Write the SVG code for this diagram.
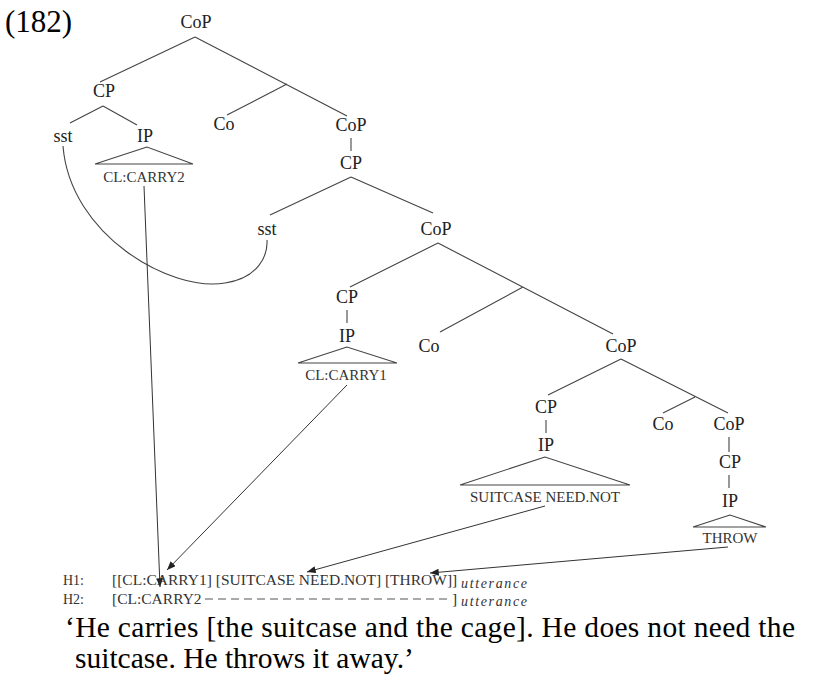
<svg xmlns="http://www.w3.org/2000/svg" width="830" height="680" viewBox="0 0 830 680">
<defs>
<marker id="arr" viewBox="0 0 10 8" refX="10" refY="4" markerWidth="9" markerHeight="7" markerUnits="userSpaceOnUse" orient="auto">
<path d="M0,0 L10,4 L0,8 Z" fill="#222"/>
</marker>
</defs>
<style>
.n{font-family:"Liberation Serif","Times New Roman",serif;font-size:18px;fill:#222;text-anchor:middle}
.sc{font-family:"Liberation Serif","Times New Roman",serif;font-size:15px;fill:#333;text-anchor:middle}
.e{stroke:#444;stroke-width:1.1;fill:none}
.tri{stroke:#444;stroke-width:1.1;fill:none}
.a{stroke:#333;stroke-width:1;fill:none;marker-end:url(#arr)}
.gl{font-family:"Liberation Serif","Times New Roman",serif;font-size:15.5px;fill:#333}
.h{font-family:"Liberation Serif","Times New Roman",serif;font-size:14px;fill:#333}
.u{font-family:"Liberation Serif","Times New Roman",serif;font-size:14px;font-style:italic;fill:#333}
.big{font-family:"Liberation Serif","Times New Roman",serif;font-size:29.5px;fill:#000}
</style>
<rect width="830" height="680" fill="#fff"/>
<text class="big" x="5" y="32" style="font-size:31px">(182)</text>

<g id="connectors">
<path class="e" d="M195,37 L100,82 M195,37 L347,116 M287,84 L227,115"/>
<path class="e" d="M103,106 L70,123 M103,106 L137,125"/>
<path class="e" d="M351,138 L351,151"/>
<path class="e" d="M351,177 L270,215 M351,177 L433,213"/>
<path class="e" d="M63,146 C70,235 170,292 225,283 C258,278 268,256 267,240"/>
<path class="e" d="M438,243 L350,287 M438,243 L613,334 M523,287 L440,332"/>
<path class="e" d="M347,310 L347,323"/>
<path class="e" d="M621,359 L548,395 M621,359 L728,413 M695,397 L663,413"/>
<path class="e" d="M546,420 L546,433"/>
<path class="e" d="M729,437 L729,452 M729,475 L729,488"/>
<path class="a" d="M144,186 L160,587"/>
<path class="a" d="M347,385 L167,570"/>
<path class="a" d="M545,506 L307,572"/>
<path class="a" d="M728,547 L430,573"/>
</g>

<g id="cop1"><text class="n" x="196" y="28">CoP</text></g>
<g id="cp1"><text class="n" x="104" y="97">CP</text></g>
<g id="sst1"><text class="n" x="63" y="142">sst</text></g>
<g id="ip1"><text class="n" x="145" y="142">IP</text></g>
<g id="carry2"><path class="tri" d="M147,147 L95,164 L193,164 Z"/><text class="sc" x="144" y="182">CL:CARRY2</text></g>
<g id="co1"><text class="n" x="224" y="130">Co</text></g>
<g id="cop2"><text class="n" x="351" y="131">CoP</text></g>
<g id="cp2"><text class="n" x="351" y="169">CP</text></g>
<g id="sst2"><text class="n" x="267" y="235">sst</text></g>
<g id="cop3"><text class="n" x="436" y="235">CoP</text></g>
<g id="cp3"><text class="n" x="347" y="303">CP</text></g>
<g id="ip3"><text class="n" x="347" y="342">IP</text></g>
<g id="carry1"><path class="tri" d="M347,347 L298,363 L397,363 Z"/><text class="sc" x="346" y="380">CL:CARRY1</text></g>
<g id="co3"><text class="n" x="429" y="352">Co</text></g>
<g id="cop4"><text class="n" x="621" y="352">CoP</text></g>
<g id="cp4"><text class="n" x="546" y="413">CP</text></g>
<g id="ip4"><text class="n" x="546" y="451">IP</text></g>
<g id="suitcase"><path class="tri" d="M545,457 L460,485 L630,485 Z"/><text class="sc" x="545" y="502">SUITCASE NEED.NOT</text></g>
<g id="co4"><text class="n" x="663" y="430">Co</text></g>
<g id="cop5"><text class="n" x="729" y="430">CoP</text></g>
<g id="cp5"><text class="n" x="730" y="468">CP</text></g>
<g id="ip5"><text class="n" x="730" y="507">IP</text></g>
<g id="throw"><path class="tri" d="M730,515 L693,527 L766,527 Z"/><text class="sc" x="730" y="543">THROW</text></g>

<g id="h1">
<text class="h" x="63" y="585">H1:</text>
<text class="gl" x="112" y="585">[[CL:CARRY1] [SUITCASE NEED.NOT] [THROW]]</text>
<text class="u" x="461" y="588" textLength="66" lengthAdjust="spacing">utterance</text>
</g>
<g id="h2">
<text class="h" x="63" y="604">H2:</text>
<text class="gl" x="112" y="604">[CL:CARRY2</text>
<line x1="205" y1="599" x2="449" y2="599" stroke="#555" stroke-width="1" stroke-dasharray="8,5"/>
<text class="gl" x="452" y="604">]</text>
<text class="u" x="461" y="606" textLength="66" lengthAdjust="spacing">utterance</text>
</g>
<g id="translation">
<text class="big" x="65" y="637" textLength="730" lengthAdjust="spacing">‘He carries [the suitcase and the cage]. He does not need the</text>
<text class="big" x="75" y="668">suitcase. He throws it away.’</text>
</g>
</svg>
